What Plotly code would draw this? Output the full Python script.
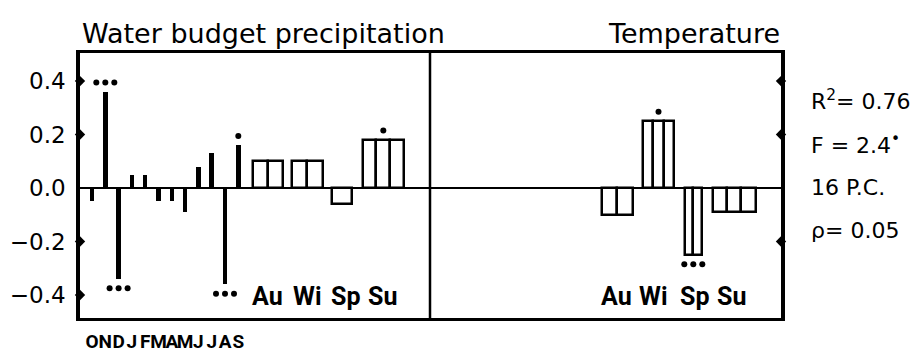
import plotly.graph_objects as go

# ---- data -------------------------------------------------------------
months = ["O", "N", "D", "J", "F", "M", "A", "M", "J", "J", "A", "S"]
precip_month = [-0.05, 0.36, -0.34, 0.05, 0.05, -0.05, -0.05, -0.09, 0.08, 0.13, -0.36, 0.16]
precip_month_sig = [0, 3, 3, 0, 0, 0, 0, 0, 0, 0, 3, 1]

seasons = ["Au", "Wi", "Sp", "Su"]
precip_season = [0.10, 0.10, -0.06, 0.18]
precip_season_sig = [0, 0, 0, 1]
temp_season = [-0.10, 0.25, -0.25, -0.09]
temp_season_sig = [0, 1, 3, 0]

y_ticks = [0.4, 0.2, 0.0, -0.2, -0.4]
y_tick_text = ["0.4", "0.2", "0.0", "\u22120.2", "\u22120.4"]

stats = ["R<sup>2</sup>= 0.76", "F = 2.4<sup>\u2022</sup>", "16 P.C.", "\u03c1= 0.05"]

# ---- layout parameters (x axis units = pixels across the frame) ------
X_MAX = 701
DIVIDER = 350
MONTH_START, MONTH_STEP, MONTH_WIDTH = 12, 13.3, 4.5
precip_box_center = [187.7, 227.0, 261.7, 303.3]
precip_box_width = [30, 31, 20, 41]
precip_box_parts = [2, 2, 1, 3]
temp_box_center = [537.3, 578.5, 613.3, 654.3]
temp_box_width = [31, 31, 17, 43]
temp_box_parts = [2, 3, 2, 3]
precip_label_x = [187, 227, 265, 302]
temp_label_x = [536, 573, 614, 651]
DOT_GAP = 0.035
DOT_STEP = 9
LABEL_Y = -0.405

TXT = "DejaVu Sans"
NARROW = "Roboto"

month_x = [MONTH_START + i * MONTH_STEP for i in range(len(months))]

fig = go.Figure()

# monthly precipitation coefficients: thin black bars
fig.add_trace(go.Bar(
    x=month_x, y=precip_month, width=[MONTH_WIDTH] * len(months),
    marker=dict(color="black", line=dict(width=0)), showlegend=False,
))


def box_bars(values, centers, widths, parts):
    xs, ys, ws = [], [], []
    for v, c, w, n in zip(values, centers, widths, parts):
        left = c - w / 2
        for k in range(n):
            xs.append(left + (k + 0.5) * w / n)
            ys.append(v)
            ws.append(w / n)
    return go.Bar(
        x=xs, y=ys, width=ws,
        marker=dict(color="white", line=dict(color="black", width=2.5)),
        showlegend=False,
    )


fig.add_trace(box_bars(precip_season, precip_box_center, precip_box_width, precip_box_parts))
fig.add_trace(box_bars(temp_season, temp_box_center, temp_box_width, temp_box_parts))


def sig_dots(values, centers, sig):
    xs, ys = [], []
    for v, c, n in zip(values, centers, sig):
        for k in range(n):
            xs.append(c + (k - (n - 1) / 2) * DOT_STEP)
            ys.append(v + (DOT_GAP if v > 0 else -DOT_GAP))
    return go.Scatter(x=xs, y=ys, mode="markers",
                      marker=dict(color="black", size=6), showlegend=False)


fig.add_trace(sig_dots(precip_month, month_x, precip_month_sig))
fig.add_trace(sig_dots(precip_season, precip_box_center, precip_season_sig))
fig.add_trace(sig_dots(temp_season, temp_box_center, temp_season_sig))

# tick marks on the frame edges
left_ticks = [t for t in y_ticks if t != 0]
right_ticks = [0.4, 0.2, -0.2]
fig.add_trace(go.Scatter(
    x=[0] * len(left_ticks) + [X_MAX] * len(right_ticks),
    y=left_ticks + right_ticks, mode="markers", cliponaxis=False,
    marker=dict(symbol="diamond", color="black", size=8), showlegend=False,
))

season_font = dict(family=NARROW, size=25, color="black", weight="bold")

# season labels inside each panel
for name, c in zip(seasons, precip_label_x):
    fig.add_annotation(x=c, y=LABEL_Y, text=name, showarrow=False, font=season_font)
for name, c in zip(seasons, temp_label_x):
    fig.add_annotation(x=c, y=LABEL_Y, text=name, showarrow=False, font=season_font)

# panel titles
title_font = dict(family=TXT, size=27, color="black")
fig.add_annotation(xref="paper", yref="paper", x=0.0, y=1.075, xanchor="left",
                   yanchor="middle", text="Water budget precipitation", showarrow=False,
                   font=title_font)
fig.add_annotation(xref="paper", yref="paper", x=1.002, y=1.075, xanchor="right",
                   yanchor="middle", text="Temperature", showarrow=False,
                   font=title_font)

# regression statistics on the right
for txt, yv in zip(stats, [0.33, 0.165, 0.003, -0.16]):
    fig.add_annotation(xref="paper", yref="y", x=1.04, y=yv, xanchor="left",
                       yanchor="middle", text=txt, showarrow=False,
                       font=dict(family=TXT, size=22, color="black"))

# divider between the two panels
fig.add_shape(type="line", xref="x", yref="paper", x0=DIVIDER, x1=DIVIDER, y0=0, y1=1,
              line=dict(color="black", width=2.5))

fig.update_layout(
    width=917, height=352,
    margin=dict(l=80, r=136, t=53, b=34),
    plot_bgcolor="white", paper_bgcolor="white",
    barmode="overlay", bargap=0,
    xaxis=dict(range=[0, X_MAX], tickvals=month_x, ticktext=months,
               tickangle=0,
               tickfont=dict(family=NARROW, size=19, color="black", weight="bold"),
               showline=True, mirror=True, linecolor="black", linewidth=3,
               showgrid=False, zeroline=False, ticks="", ticklabelstandoff=4,
               automargin=False),
    yaxis=dict(range=[-0.486, 0.505], tickvals=y_ticks, ticktext=y_tick_text,
               tickfont=dict(family=TXT, size=23, color="black"),
               showline=True, mirror=True, linecolor="black", linewidth=3.5,
               showgrid=False, zeroline=True, zerolinecolor="black", zerolinewidth=2,
               ticks="", ticklabelstandoff=6, automargin=False),
)

fig.write_html("out.html")
